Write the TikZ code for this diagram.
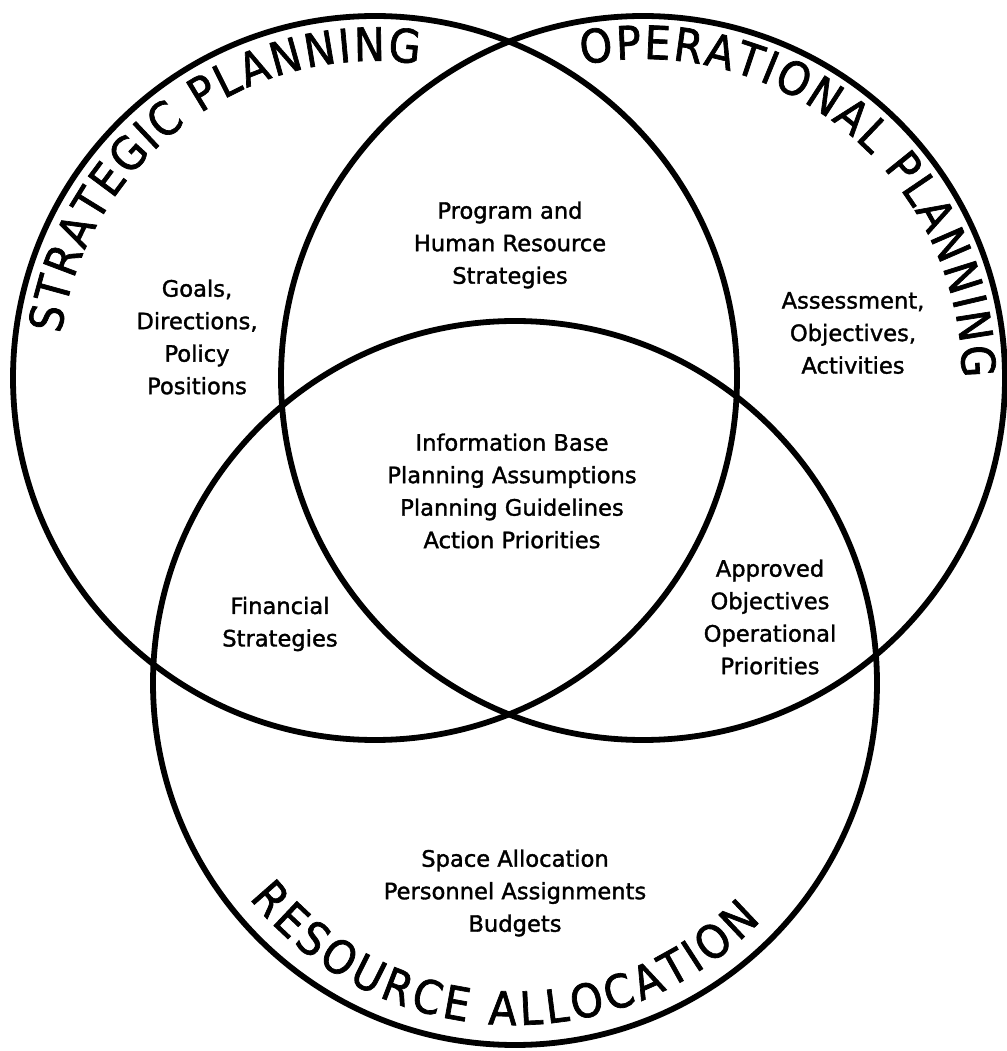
\documentclass[tikz,border=0pt]{standalone}
\usepackage{fontspec}
\setmainfont[FakeBold=1.5]{DejaVu Sans}
\newfontfamily\titlefont[FakeStretch=0.9,FakeBold=1.5]{DejaVu Sans}
\usetikzlibrary{decorations.text}

\begin{document}
\begin{tikzpicture}[x=0.5pt,y=0.5pt,line width=2.9pt]
	\tikzstyle{venntext}=[align=center,font=\fontsize{11.3}{16.25}\selectfont,inner sep=0pt]
	\tikzstyle{ringtitle}=[decorate,decoration={text along path,text align=fit to path,text format delimiters={|}{|}}]
	\useasboundingbox (0,0) rectangle (1007,1051);

	% centres of the three rings
	\coordinate (SP) at (375,673);
	\coordinate (OP) at (643,673);
	\coordinate (RA) at (515,368);

	\draw (SP) circle[radius=362];
	\draw (OP) circle[radius=362];
	\draw (RA) circle[radius=362];

	% ring titles
	\path[ringtitle,decoration={text={|\titlefont\fontsize{23}{23}\selectfont|STRATEGIC PLANNING}}]
		(SP) ++(172:317) arc[start angle=172,end angle=82,radius=317];
	\path[ringtitle,decoration={text={|\titlefont\fontsize{23}{23}\selectfont|OPERATIONAL PLANNING}}]
		(OP) ++(101:319) arc[start angle=101,end angle=0,radius=319];
	\path[ringtitle,decoration={text={|\titlefont\fontsize{23}{23}\selectfont|RESOURCE ALLOCATION}}]
		(RA) ++(219:342) arc[start angle=219,end angle=316,radius=342];

	% region texts
	\node[venntext] (goals) at (197,714) {Goals,\\Directions,\\Policy\\Positions};
	\node[venntext] (program) at (510,806) {Program and\\Human Resource\\Strategies};
	\node[venntext] (assess) at (853,718) {Assessment,\\Objectives,\\Activities};
	\node[venntext] (base) at (512,560) {Information Base\\Planning Assumptions\\Planning Guidelines\\Action Priorities};
	\node[venntext] (finance) at (280,427) {Financial\\Strategies};
	\node[venntext] (approved) at (770,434) {Approved\\Objectives\\Operational\\Priorities};
	\node[venntext] (space) at (515,158) {Space Allocation\\Personnel Assignments\\Budgets};
\end{tikzpicture}
\end{document}
